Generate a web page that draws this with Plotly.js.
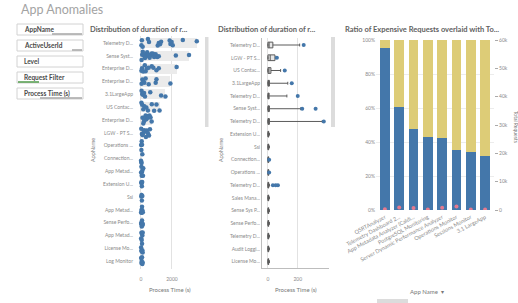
<!DOCTYPE html>
<html><head><meta charset="utf-8">
<script src="https://cdn.plot.ly/plotly-3.0.1.min.js"></script>
<style>html,body{margin:0;padding:0;background:#fff}#chart{width:518px;height:303px}</style>
</head><body><div id="chart"></div>
<script>
// ---------- data ----------
const filters = ["AppName", "ActiveUserId", "Level", "Request Filter", "Process Time (s)"];

// Panel 1: distribution of durations (s)
const distApps = ["Telemetry D...", "Sense Syst...", "Enterprise D...", "Enterprise D...", "3.1LargeApp", "US Contac...", "Enterprise D...", "LGW - PT S...", "Operations ...", "Connection...", "App Metad...", "Extension U...", "Ssi", "App Metad...", "Sense Perfo...", "App Metad...", "License Mo...", "Log Monitor"];
const distValues = [
  [30, 60, 110, 450, 520, 1080, 1150, 1230, 1300, 1850, 1900, 1980, 2050, 2700, 3600],
  [40, 80, 120, 160, 200, 260, 300, 350, 400, 450, 500, 560, 620, 700, 780, 850, 950, 1050, 1150, 2250, 3100],
  [30, 70, 150, 250, 300, 380, 500, 700, 800, 1000, 1150, 2300],
  [40, 90, 150, 220, 300, 500, 950, 1000, 1900],
  [40, 80, 130, 200, 260, 600, 1300, 1580],
  [30, 80, 150, 220, 350, 450, 700, 850, 1000, 1200],
  [100, 150, 200, 250, 300, 350, 400, 450, 500, 550, 620, 690],
  [20, 60, 100, 140, 200, 260, 320, 380, 450, 520, 580],
  [10, 30, 50, 70],
  [5, 20, 40, 90],
  [10, 30, 50, 70, 100, 130, 150],
  [20, 40, 60, 80],
  [20, 40, 60, 90],
  [10, 30, 50, 70, 90, 120],
  [10, 30, 50, 70, 90, 120],
  [10, 30, 50, 70, 90, 110],
  [10, 30, 50, 70, 90, 110],
  [10, 30, 50, 70, 90, 110]
];

// Panel 2: box plot of durations (s)
const boxApps = ["Telemetry D...", "LGW - PT S...", "US Contac...", "3.1LargeApp", "Telemetry D...", "Sense Syst...", "Telemetry D...", "Extension U...", "Ssi", "Connection...", "Operations ...", "Telemetry D...", "Sales Mana...", "Sense Sys P...", "Sense Perfo...", "Telemetry D...", "Audit Loggi...", "License Mo..."];
const boxQ1     = [0, 0, 0, 0, 0, 0, 0, 0, 0, 0, 0, 0, 0, 0, 0, 0, 0, 0];
const boxMedian = [8, 15, 5, 3, 3, 3, 3, 2, 2, 2, 2, 2, 2, 2, 2, 2, 2, 2];
const boxQ3     = [33, 47, 20, 10, 8, 10, 10, 5, 5, 5, 5, 5, 5, 5, 5, 5, 5, 5];
const boxUpper  = [213, 52, 85, 133, 127, 220, 365, 10, 10, 10, 10, 10, 10, 10, 10, 10, 10, 10];
const boxOutliers = [[240], [60], [113], [160], [200], [230, 320], [375], [], [], [8], [8], [33, 52, 67], [], [], [], [], [], []];

// Panel 3: ratio of expensive requests + total requests
const ratioApps = ["QSRTAnalyzer", "Telemetry Dashboard 2...", "App Metadata Analyzer (Caldi...", "PostgreSQL Monitoring", "Server Dynamic Performance Analyzer", "Operations Monitor", "Sessions Monitor", "3.1 LargeApp"];
const expensivePct = [95.5, 60.5, 47.5, 43, 42.5, 35.5, 34, 31.5];
const totalRequests = [300, 900, 700, 200, 800, 1200, 200, 200];

// ---------- helpers ----------
const W = 518, H = 303;
const X = p => p / W;
const Y = p => 1 - p / H;
const FONT = "Lato, 'Open Sans', sans-serif";
const BLUE = '#4477aa', YELLOW = '#ddcc77', PINK = '#e57a8e';

// panel 1 traces
const pos1 = distApps.map((_, i) => i);
const flatX = [], flatY = [];
distValues.forEach((arr, i) => arr.forEach(v => { flatX.push(v); flatY.push(i); }));
const maxes = distValues.map(a => Math.max(...a));

// panel 2 outliers
const outX = [], outY = [];
boxOutliers.forEach((arr, i) => arr.forEach(v => { outX.push(v); outY.push(i); }));
const pos2 = boxApps.map((_, i) => i);

const traces = [
  {type: 'bar', orientation: 'h', x: maxes, y: pos1, width: 0.8, marker: {color: '#ebebeb'},
   xaxis: 'x', yaxis: 'y', hoverinfo: 'skip'},
  {type: 'box', orientation: 'h', x: flatX, y: flatY, boxpoints: 'all', jitter: 1, pointpos: 0,
   width: 0.75, marker: {color: BLUE, size: 4.5}, line: {width: 0, color: 'rgba(0,0,0,0)'},
   fillcolor: 'rgba(0,0,0,0)', xaxis: 'x', yaxis: 'y', hoveron: 'points'},
  {type: 'box', orientation: 'h', y: pos2, q1: boxQ1, median: boxMedian, q3: boxQ3,
   lowerfence: boxQ1, upperfence: boxUpper, width: 0.45, whiskerwidth: 0.5,
   fillcolor: '#e6e6e6', line: {color: '#5a5a5a', width: 1}, xaxis: 'x2', yaxis: 'y2', boxpoints: false},
  {type: 'scatter', mode: 'markers', x: outX, y: outY, marker: {color: BLUE, size: 4},
   xaxis: 'x2', yaxis: 'y2'},
  {type: 'bar', x: ratioApps, y: expensivePct, marker: {color: BLUE}, xaxis: 'x3', yaxis: 'y3'},
  {type: 'bar', x: ratioApps, y: expensivePct.map(v => 100 - v), marker: {color: YELLOW}, xaxis: 'x3', yaxis: 'y3'},
  {type: 'scatter', mode: 'markers', x: ratioApps, y: totalRequests, marker: {color: PINK, size: 4},
   xaxis: 'x3', yaxis: 'y4'}
];

const tickFont = {family: FONT, size: 5, color: '#8a8a8a'};

const layout = {
  width: W, height: H, margin: {l: 0, r: 0, t: 0, b: 0},
  paper_bgcolor: '#fff', plot_bgcolor: 'rgba(0,0,0,0)',
  showlegend: false, barmode: 'stack', bargap: 0.32,
  font: {family: FONT},
  xaxis: {domain: [X(138), X(205)], range: [-190, 4130], tickvals: [0, 2000], ticktext: ['0', '2000'],
          showgrid: true, gridcolor: '#e2e2e2', zeroline: false, ticks: '', tickfont: tickFont,
          ticklabelstandoff: 6, fixedrange: true, anchor: 'y'},
  yaxis: {domain: [Y(269), Y(36)], range: [17.62, -0.55], tickvals: pos1, ticktext: distApps,
          showgrid: false, zeroline: false, ticks: '', tickfont: tickFont, ticklabelstandoff: 4, anchor: 'x'},
  xaxis2: {domain: [X(262), X(329)], range: [-40, 410], tickvals: [0, 200], ticktext: ['0', '200'],
           showgrid: true, gridcolor: '#e2e2e2', zeroline: false, showline: true, linecolor: '#bdbdbd',
           ticks: '', tickfont: tickFont, ticklabelstandoff: 6, anchor: 'y2'},
  yaxis2: {domain: [Y(268), Y(38)], range: [17.5, -0.55], tickvals: pos2, ticktext: boxApps,
           showgrid: false, zeroline: false, showline: true, linecolor: '#bdbdbd', ticks: '',
           tickfont: tickFont, anchor: 'x2'},
  xaxis3: {domain: [X(376), X(494)], type: 'category', tickangle: -28, ticks: '',
           tickfont: {family: FONT, size: 5.5, color: '#8a8a8a'}, ticklabelstandoff: 2,
           showgrid: false, anchor: 'y3'},
  yaxis3: {domain: [Y(210), Y(40)], range: [0, 100], tickvals: [0, 20, 40, 60, 80, 100],
           ticktext: ['0%', '20%', '40%', '60%', '80%', '100%'], showgrid: true, gridcolor: '#ececec',
           zeroline: false, ticks: '', tickfont: tickFont, anchor: 'x3'},
  yaxis4: {overlaying: 'y3', side: 'right', anchor: 'x3', range: [0, 60000],
           tickvals: [0, 10000, 20000, 30000, 40000, 50000, 60000],
           ticktext: ['0', '10k', '20k', '30k', '40k', '50k', '60k'], showgrid: false, zeroline: false,
           ticks: 'outside', ticklen: 3, tickcolor: '#aaa', tickfont: tickFont},
  shapes: [],
  annotations: []
};

// filter panes
filters.forEach((f, i) => {
  const top = 24 + 16 * i, bot = 35 + 16 * i;
  layout.shapes.push({type: 'rect', xref: 'paper', yref: 'paper', x0: X(17), x1: X(83), y0: Y(bot), y1: Y(top),
    line: {color: '#d2d2d2', width: 1}, fillcolor: '#fff'});
  layout.annotations.push({xref: 'paper', yref: 'paper', x: X(22), y: Y((top + bot) / 2), text: '<b>' + f + '</b>',
    showarrow: false, xanchor: 'left', yanchor: 'middle', font: {family: FONT, size: 6.5, color: '#4a4a4a'}});
});
const bars = [[52, 82, '#a6a6a6'], [72, 82, '#a6a6a6'], null, [18, 39, '#4f9a49'], [40, 82, '#a6a6a6']];
bars.forEach((b, i) => {
  if (!b) return;
  const yb = 34 + 16 * i;
  layout.shapes.push({type: 'line', xref: 'paper', yref: 'paper', x0: X(b[0]), x1: X(b[1]), y0: Y(yb), y1: Y(yb),
    line: {color: b[2], width: 1.5}});
});
// scrollbars
[[205, 208.5, 37, 127], [331, 335, 37, 127], [377, 408, 299, 303]].forEach(r => {
  layout.shapes.push({type: 'rect', xref: 'paper', yref: 'paper', x0: X(r[0]), x1: X(r[1]), y0: Y(r[3]), y1: Y(r[2]),
    line: {width: 0}, fillcolor: '#dcdcdc'});
});

const ann = (x, y, text, size, color, extra) => layout.annotations.push(Object.assign({
  xref: 'paper', yref: 'paper', x: X(x), y: Y(y), text, showarrow: false, xanchor: 'left', yanchor: 'middle',
  font: {family: FONT, size, color}}, extra || {}));

ann(19, 9, 'App Anomalies', 12.5, '#a3a3a3');
ann(88, 29, '<b>Distribution of duration of r...</b>', 7.5, '#5f5f5f');
ann(216, 29, '<b>Distribution of duration of r...</b>', 7.5, '#5f5f5f');
ann(343, 29, '<b>Ratio of Expensive Requests overlaid with To...</b>', 7.5, '#5f5f5f');
ann(93, 150, 'AppName', 5.5, '#777', {xanchor: 'center', textangle: -90});
ann(221, 150, 'AppName', 5.5, '#777', {xanchor: 'center', textangle: -90});
ann(169.5, 289, 'Process Time (s)', 6, '#777', {xanchor: 'center'});
ann(296, 289, 'Process Time (s)', 6, '#777', {xanchor: 'center'});
ann(427, 291, 'App Name  ▾', 6, '#777', {xanchor: 'center'});
ann(516, 127, 'Total Requests', 5, '#777', {xanchor: 'center', textangle: 90});

Plotly.newPlot('chart', traces, layout, {displayModeBar: false, staticPlot: true});
</script></body></html>
